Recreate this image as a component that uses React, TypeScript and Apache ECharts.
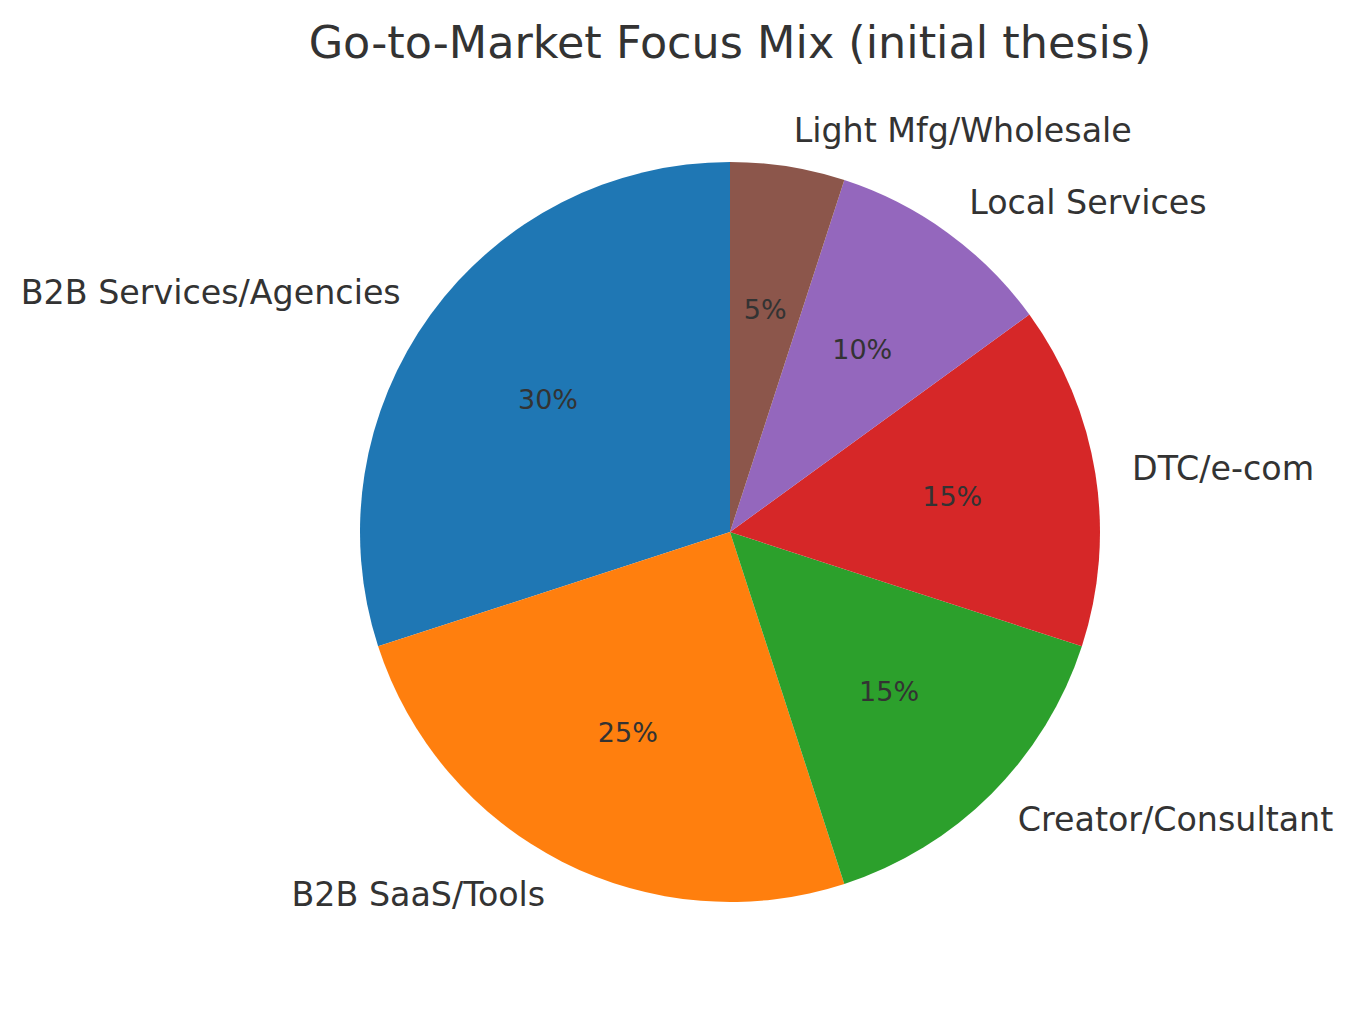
import React, { useEffect, useRef } from "react";
import * as echarts from "echarts";

const titleText = "Go-to-Market Focus Mix (initial thesis)";
const categories = [
  "B2B Services/Agencies",
  "B2B SaaS/Tools",
  "Creator/Consultant",
  "DTC/e-com",
  "Local Services",
  "Light Mfg/Wholesale",
];
const shares = [30, 25, 15, 15, 10, 5];
const colors = ["#1f77b4", "#ff7f0e", "#2ca02c", "#d62728", "#9467bd", "#8c564b"];

const FONT = "DejaVu Sans";
const TEXT = "#333333";
const CX = 730;
const CY = 532;
const R = 370;

export default function App() {
  const ref = useRef<HTMLDivElement>(null);
  useEffect(() => {
    document.body.style.margin = "0";
    if (!ref.current) return;
    const chart = echarts.init(ref.current, undefined, { renderer: "svg" });
    const data = categories.map((name, i) => ({
      name,
      value: shares[i],
      itemStyle: { color: colors[i] },
    }));
    chart.setOption({
      animation: false,
      backgroundColor: "#ffffff",
      title: {
        text: titleText,
        left: CX - 5,
        top: 15,
        textAlign: "center",
        textStyle: { fontFamily: FONT, fontSize: 44.5, fontWeight: "normal", color: TEXT },
      },
      series: [
        {
          type: "pie",
          center: [CX, CY],
          radius: [0, R],
          startAngle: 90,
          clockwise: false,
          avoidLabelOverlap: false,
          silent: true,
          itemStyle: { borderWidth: 0 },
          label: {
            show: true,
            position: "outside",
            formatter: "{b}",
            fontFamily: FONT,
            fontSize: 33.3,
            color: TEXT,
            distanceToLabelLine: 0,
            verticalAlign: "middle",
          },
          labelLine: { show: false, length: R * 0.1, length2: 0 },
          data,
        },
        {
          type: "pie",
          center: [CX, CY],
          radius: [0, R * 1.2],
          startAngle: 90,
          clockwise: false,
          avoidLabelOverlap: false,
          silent: true,
          itemStyle: { color: "rgba(0,0,0,0)", borderWidth: 0 },
          label: {
            show: true,
            position: "inside",
            formatter: (p: any) => Math.round(p.percent) + "%",
            fontFamily: FONT,
            fontSize: 27,
            color: TEXT,
          },
          labelLine: { show: false },
          data: categories.map((name, i) => ({
            name,
            value: shares[i],
            itemStyle: { color: "rgba(0,0,0,0)" },
          })),
        },
      ],
    });
    return () => chart.dispose();
  }, []);
  return <div ref={ref} style={{ width: 1353, height: 1014 }} />;
}
